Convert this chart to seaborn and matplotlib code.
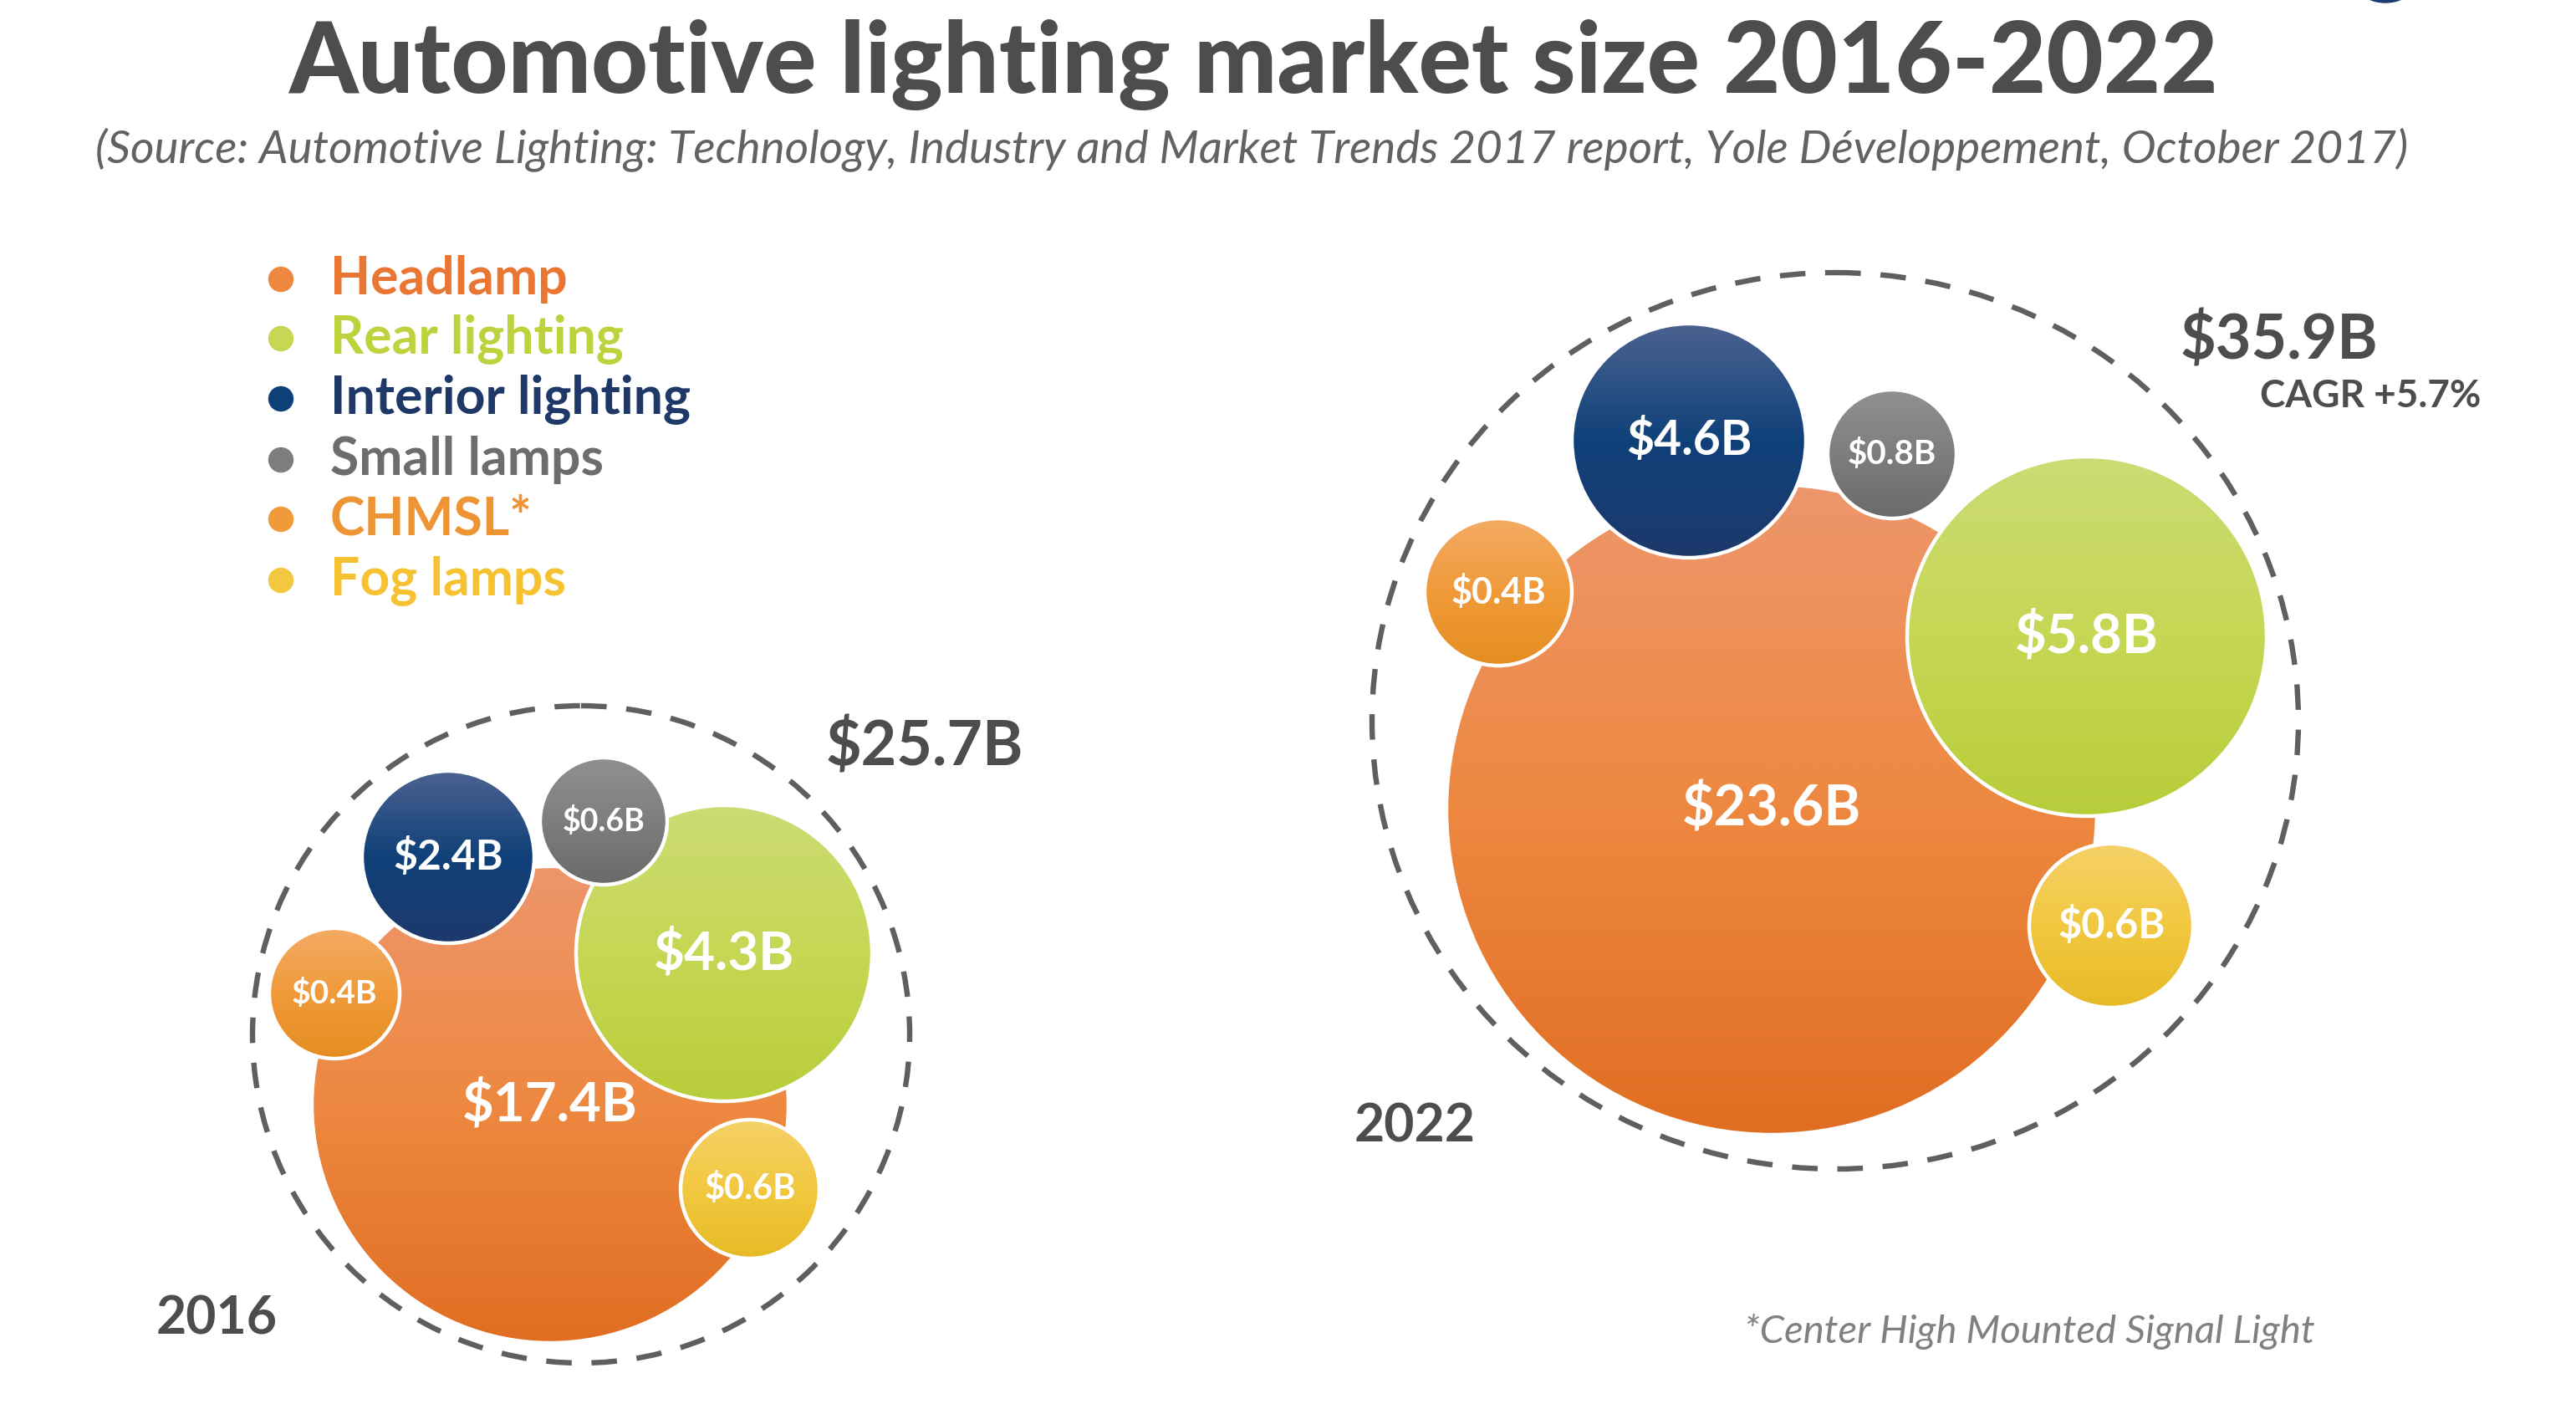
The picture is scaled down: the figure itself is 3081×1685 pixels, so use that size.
import numpy as np
import matplotlib
matplotlib.use("Agg")
import matplotlib.pyplot as plt
from matplotlib.patches import Circle, Ellipse
from matplotlib.colors import LinearSegmentedColormap
import seaborn as sns
import pandas as pd

# --- data ---
segments = ["Headlamp", "Rear lighting", "Interior lighting", "Small lamps", "CHMSL*", "Fog lamps"]
values_2016 = [17.4, 4.3, 2.4, 0.6, 0.4, 0.6]
values_2022 = [23.6, 5.8, 4.6, 0.8, 0.4, 0.6]
years = ["2016", "2022"]
totals = [25.7, 35.9]
cagr = 5.7

# --- layout (canvas pixels, 3081 x 1685, y downwards) ---
centres_2016 = [(658, 1321), (866, 1140), (536, 1025), (722, 982), (400, 1188), (897, 1422)]
radii_2016 = [285, 177, 103, 76, 78, 83]
label_pt_2016 = [47, 46, 36, 27, 28, 30]
centres_2022 = [(2119, 968), (2496, 761), (2020, 527), (2263, 543), (1792, 708), (2525, 1107)]
radii_2022 = [389, 215, 140, 77, 88, 98]
label_pt_2022 = [48, 47, 41, 29, 31, 35]
draw_order = [0, 1, 5, 4, 2, 3]

# gradient stops (top -> bottom) per segment
gradients = [
    ["#ED966C", "#EE8840", "#E06E22"],
    ["#CCDB74", "#C6D754", "#B8CD3A"],
    ["#4C6290", "#0F4179", "#1D396C"],
    ["#909090", "#7E7E7E", "#6A6A6A"],
    ["#F3AB64", "#F09A3A", "#E48D20"],
    ["#F5D168", "#F2C840", "#E6BA26"],
]
text_colors = ["#E97632", "#BED23E", "#1E3868", "#6D6D6D", "#EE9435", "#F6C232"]
grey = "#4D4D4D"

sns.set_theme(style="white")
plt.rcParams['font.family'] = ['Lato', 'DejaVu Sans']
plt.rcParams['lines.scale_dashes'] = False

fig = plt.figure(figsize=(30.81, 16.85), dpi=100)
ax = fig.add_axes([0, 0, 1, 1])


def bubble(cx, cy, r, stops, z):
    circ = Circle((cx, cy), r, facecolor='none', edgecolor='white', lw=3.2, zorder=z + 0.5)
    ax.add_patch(circ)
    cmap = LinearSegmentedColormap.from_list('g', stops)
    grad = np.linspace(0, 1, 256).reshape(-1, 1)
    im = ax.imshow(grad, cmap=cmap, extent=(cx - r, cx + r, cy + r, cy - r),
                   origin='upper', aspect='auto', zorder=z, interpolation='bilinear')
    im.set_clip_path(circ)


groups = [
    (values_2016, centres_2016, radii_2016, label_pt_2016),
    (values_2022, centres_2022, radii_2022, label_pt_2022),
]
for vals, centres, radii, sizes in groups:
    for z, i in enumerate(draw_order):
        cx, cy = centres[i]
        bubble(cx, cy, radii[i], gradients[i], 2 + z)
        ax.text(cx, cy, f"${vals[i]}B", color='white', fontsize=sizes[i], fontweight='bold',
                ha='center', va='center', zorder=20)

# dashed envelopes
dash = (0, (22, 17))
ax.add_patch(Circle((695, 1237), 393, fill=False, ec='#5F5F5F', lw=4.6, ls=dash, zorder=1))
ax.add_patch(Ellipse((2195, 862), 1108, 1072, fill=False, ec='#5F5F5F', lw=4.6, ls=dash, zorder=1))

# totals and years
ax.text(1106, 893, f"${totals[0]}B", fontsize=53, fontweight='bold', color=grey, ha='center', va='center')
ax.text(2726, 408, f"${totals[1]}B", fontsize=53, fontweight='bold', color=grey, ha='center', va='center')
ax.text(2967, 474, f"CAGR +{cagr}%", fontsize=33, fontweight='bold', color=grey, ha='right', va='center')
ax.text(259, 1578, years[0], fontsize=45, fontweight='bold', color=grey, ha='center', va='center')
ax.text(1692, 1348, years[1], fontsize=45, fontweight='bold', color=grey, ha='center', va='center')

# legend
leg = pd.DataFrame({'segment': segments, 'x': [336] * 6,
                    'y': [334, 405, 477, 550, 621, 694]})
sns.scatterplot(data=leg, x='x', y='y', hue='segment', palette=[g[1] for g in gradients],
                s=480, edgecolor='none', legend=False, ax=ax, zorder=5)
for name, yy, col in zip(segments, leg['y'], text_colors):
    ax.text(395, yy, name, fontsize=45, fontweight='bold', color=col, ha='left', va='center')

# titles
ax.text(1499, 77, "Automotive lighting market size 2016-2022", fontsize=85, fontweight='black',
        color=grey, ha='center', va='center')
ax.text(1497, 180, "(Source: Automotive Lighting: Technology, Industry and Market Trends 2017 report, "
        "Yole Développement, October 2017)", fontsize=39.5, style='italic',
        color='#626262', ha='center', va='center')
ax.text(2427, 1592, "*Center High Mounted Signal Light", fontsize=34, style='italic',
        color='#808080', ha='center', va='center')

# logo fragment at top right edge
ax.add_patch(Ellipse((2853, -14), 60, 34, color='#1B3C73', zorder=1))

ax.set_xlim(0, 3081)
ax.set_ylim(1685, 0)
ax.axis('off')
fig.savefig('out.png', dpi=100, facecolor='white')
